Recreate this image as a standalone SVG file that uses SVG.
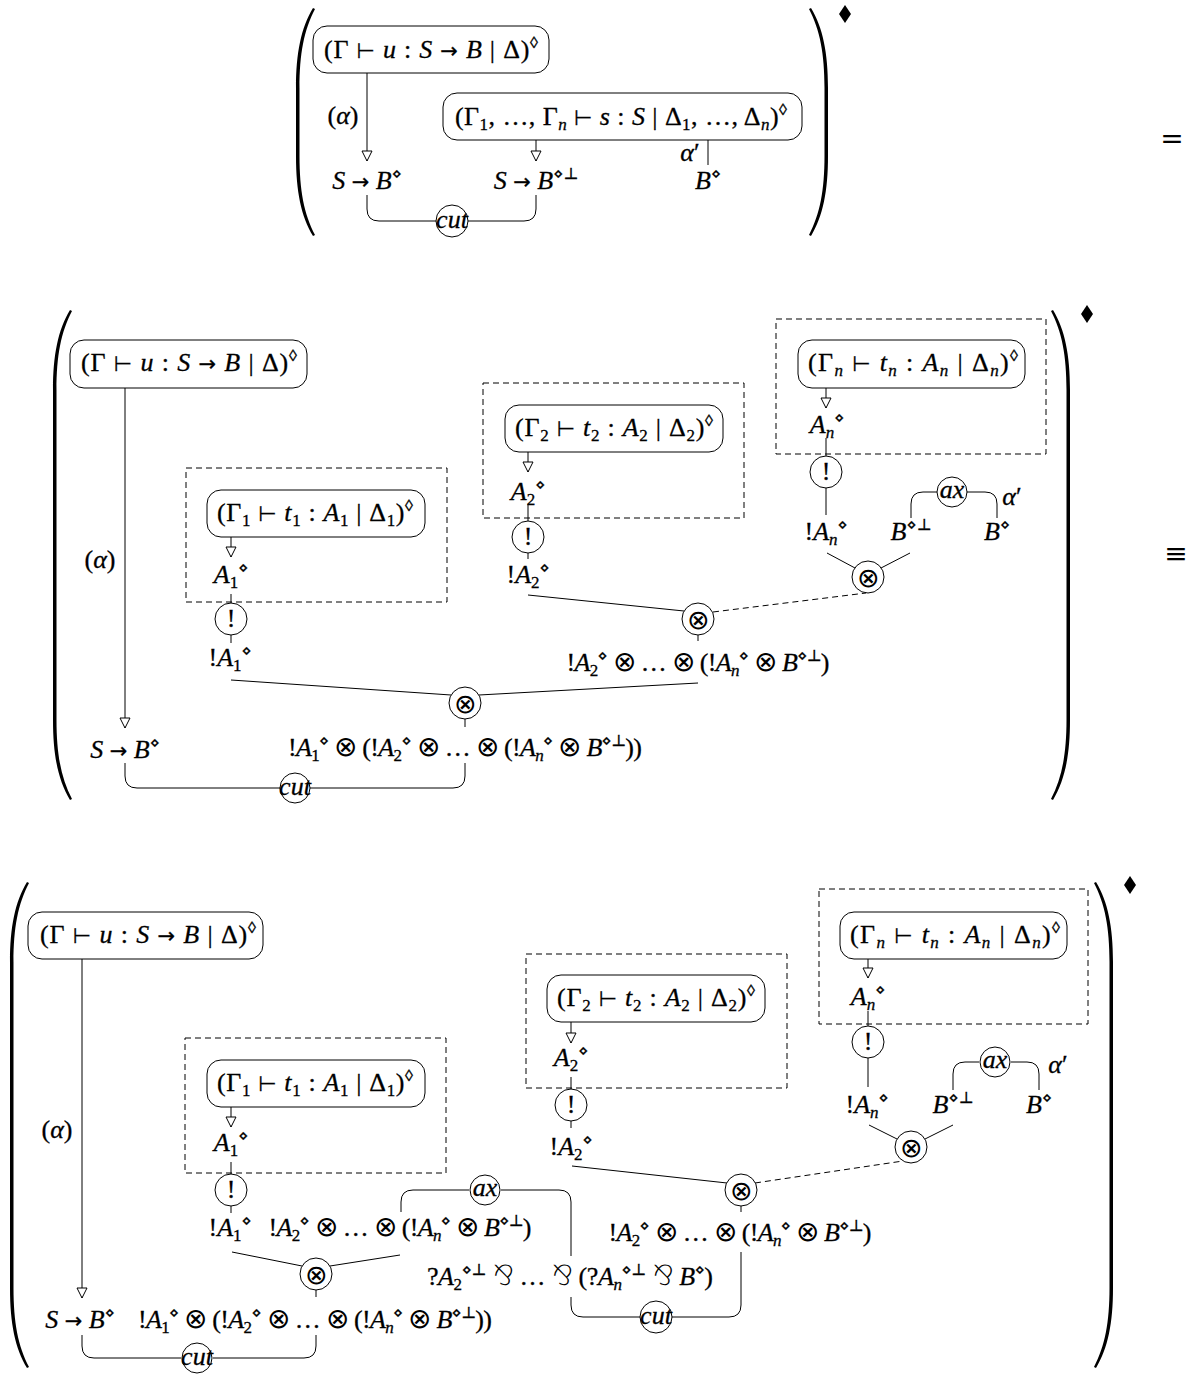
<svg xmlns="http://www.w3.org/2000/svg" width="1200" height="1374" viewBox="0 0 1200 1374">
<style>
.m{font-family:"Liberation Serif","DejaVu Serif","DejaVu Sans",serif;font-size:26px;fill:#000;stroke:#000;stroke-width:0.3px}
.i{font-style:italic}
.sb{font-size:17px;baseline-shift:-5px}
.sp{font-size:16px;baseline-shift:10px}
.o{font-family:"DejaVu Sans",sans-serif;font-size:21px;font-style:normal}
.x{font-family:"DejaVu Sans",sans-serif;font-size:28px;font-style:normal;font-weight:200;stroke-width:0}
.ln{fill:none;stroke:#000;stroke-width:1}
.ds{fill:none;stroke:#000;stroke-width:1;stroke-dasharray:6 4}
.bx{fill:#fff;stroke:#000;stroke-width:1}
.nd{fill:#fff;stroke:#000;stroke-width:1}
.ot{font-family:"DejaVu Sans",sans-serif;font-size:27px;font-weight:200;fill:#000}
.eq{font-family:"DejaVu Serif",serif;font-size:28px;fill:#000}
</style>
<defs>
<marker id="tri" markerUnits="userSpaceOnUse" markerWidth="12" markerHeight="12" viewBox="-1 -1 12 12" refX="10" refY="5" orient="auto" overflow="visible">
<path d="M0,0 L10,5 L0,10 Z" fill="#fff" stroke="#000" stroke-width="1"/>
</marker>
</defs>
<rect width="1200" height="1374" fill="#fff"/>

<g id="delims" fill="#000">
<path d="M313 8 C301 28 296 53 296 88 L296 156 C296 191 301 216 313 236 L315 235 C304 214 299.5 190 299.5 156 L299.5 88 C299.5 54 304 30 315 9 Z"/>
<path d="M811 8 C823 28 828 53 828 88 L828 156 C828 191 823 216 811 236 L809 235 C820 214 824.5 190 824.5 156 L824.5 88 C824.5 54 820 30 809 9 Z"/>
<polygon points="845,5 851,14 845,23 839,14"/>
<path d="M70 310 C58 330 53 355 53 390 L53 720 C53 755 58 780 70 800 L72 799 C61 778 56.5 754 56.5 720 L56.5 390 C56.5 356 61 332 72 311 Z"/>
<path d="M1053 310 C1065 330 1070 355 1070 390 L1070 720 C1070 755 1065 780 1053 800 L1051 799 C1062 778 1066.5 754 1066.5 720 L1066.5 390 C1066.5 356 1062 332 1051 311 Z"/>
<polygon points="1087,305 1093,314 1087,323 1081,314"/>
<path d="M27 882 C15 902 10 927 10 962 L10 1288 C10 1323 15 1348 27 1368 L29 1367 C18 1346 13.5 1322 13.5 1288 L13.5 962 C13.5 928 18 904 29 883 Z"/>
<path d="M1096 882 C1108 902 1113 927 1113 962 L1113 1288 C1113 1323 1108 1348 1096 1368 L1094 1367 C1105 1346 1109.5 1322 1109.5 1288 L1109.5 962 C1109.5 928 1105 904 1094 883 Z"/>
<polygon points="1130,876 1136,885 1130,894 1124,885"/>
</g>
<text class="eq" x="1172" y="148" text-anchor="middle">=</text>
<text class="eq" x="1176" y="563" text-anchor="middle">≡</text>

<g id="connectors">
<path class="ln" d="M367 73 V161" marker-end="url(#tri)"/>
<path class="ln" d="M536 140 V161" marker-end="url(#tri)"/>
<path class="ln" d="M708 140 V165"/>
<path class="ln" d="M367 195 V209 Q367 221 379 221 H436 M468 221 H524 Q536 221 536 209 V195"/>
<path class="ln" d="M125 388 V728" marker-end="url(#tri)"/>
<path class="ln" d="M231 537 V557" marker-end="url(#tri)"/>
<path class="ln" d="M231 594 V603 M231 635 V643"/>
<path class="ln" d="M231 680 L451 695 M698 683 L479 695 M465 719 V727"/>
<path class="ln" d="M125 763 V776 Q125 788 137 788 H280 M310 788 H453 Q465 788 465 776 V763"/>
<path class="ln" d="M528 452 V472" marker-end="url(#tri)"/>
<path class="ln" d="M528 504 V521 M528 553 V559"/>
<path class="ln" d="M528 595 L684 611 M698 635 V641"/>
<path class="ds" d="M713 612 L866 593"/>
<path class="ln" d="M826 388 V408" marker-end="url(#tri)"/>
<path class="ln" d="M826 438 V456 M826 488 V515"/>
<path class="ln" d="M911 518 V504 Q911 492 923 492 H937 M967 492 H985 Q997 492 997 504 V518"/>
<path class="ln" d="M827 553 L855 568 M910 553 L881 568"/>
<rect class="ds" x="186" y="468" width="261" height="134"/>
<rect class="ds" x="483" y="383" width="261" height="135"/>
<rect class="ds" x="776" y="319" width="270" height="135"/>
<path class="ln" d="M82 959 V1298" marker-end="url(#tri)"/>
<path class="ln" d="M231 1107 V1127" marker-end="url(#tri)"/>
<path class="ln" d="M231 1162 V1174 M231 1206 V1213"/>
<path class="ln" d="M232 1252 L302 1266 M400 1255 L330 1266 M316 1290 V1297"/>
<path class="ln" d="M82 1335 V1346 Q82 1358 94 1358 H181 M213 1358 H304 Q316 1358 316 1346 V1335"/>
<path class="ln" d="M401 1212 V1202 Q401 1190 413 1190 H469 M501 1190 H559 Q571 1190 571 1202 V1256"/>
<path class="ln" d="M571 1022 V1043" marker-end="url(#tri)"/>
<path class="ln" d="M571 1077 V1089 M571 1121 V1128"/>
<path class="ln" d="M572 1166 L727 1183 M741 1206 V1212"/>
<path class="ds" d="M755 1183 L903 1161"/>
<path class="ln" d="M571 1297 V1305 Q571 1317 583 1317 H640 M672 1317 H729 Q741 1317 741 1305 V1252"/>
<path class="ln" d="M868 959 V978" marker-end="url(#tri)"/>
<path class="ln" d="M868 1011 V1026 M868 1058 V1087"/>
<path class="ln" d="M953 1090 V1074 Q953 1062 965 1062 H979 M1011 1062 H1027 Q1039 1062 1039 1074 V1090"/>
<path class="ln" d="M869 1125 L897 1139 M953 1125 L925 1139"/>
<rect class="ds" x="185" y="1038" width="261" height="135"/>
<rect class="ds" x="526" y="954" width="261" height="134"/>
<rect class="ds" x="819" y="889" width="269" height="135"/>
</g>

<g id="p1-box-u"><rect class="bx" x="313" y="26" width="236" height="47" rx="14"/>
<text class="m" x="431" y="58" text-anchor="middle" textLength="214" lengthAdjust="spacing">(Γ <tspan class="o">⊢</tspan> <tspan class="i">u</tspan> : <tspan class="i">S</tspan> <tspan class="o">→</tspan> <tspan class="i">B</tspan> | Δ)<tspan class="sp">◊</tspan></text></g>
<g id="p1-box-s"><rect class="bx" x="443" y="93" width="359" height="47" rx="14"/>
<text class="m" x="621" y="125" text-anchor="middle" textLength="332" lengthAdjust="spacing">(Γ<tspan class="sb">1</tspan>, …, Γ<tspan class="sb i">n</tspan> <tspan class="o">⊢</tspan> <tspan class="i">s</tspan> : <tspan class="i">S</tspan> | Δ<tspan class="sb">1</tspan>, …, Δ<tspan class="sb i">n</tspan>)<tspan class="sp">◊</tspan></text></g>
<g id="p1-alpha"><text class="m" x="343" y="124" text-anchor="middle">(<tspan class="i">α</tspan>)</text></g>
<g id="p1-SB"><text class="m" x="367" y="189" text-anchor="middle"><tspan class="i">S</tspan> <tspan class="o">→</tspan> <tspan class="i">B</tspan><tspan class="sp">⋄</tspan></text></g>
<g id="p1-SBp"><text class="m" x="536" y="189" text-anchor="middle"><tspan class="i">S</tspan> <tspan class="o">→</tspan> <tspan class="i">B</tspan><tspan class="sp">⋄⊥</tspan></text></g>
<g id="p1-alphap"><text class="m" x="690" y="161" text-anchor="middle"><tspan class="i">α</tspan>′</text></g>
<g id="p1-B"><text class="m" x="708" y="189" text-anchor="middle"><tspan class="i">B</tspan><tspan class="sp">⋄</tspan></text></g>
<g id="p1-cut"><circle class="nd" cx="452" cy="221" r="16"/><text class="m i" x="452" y="228" text-anchor="middle">cut</text></g>

<g id="p2-box-u"><rect class="bx" x="70" y="340" width="237" height="48" rx="14"/>
<text class="m" x="189" y="371" text-anchor="middle" textLength="216" lengthAdjust="spacing">(Γ <tspan class="o">⊢</tspan> <tspan class="i">u</tspan> : <tspan class="i">S</tspan> <tspan class="o">→</tspan> <tspan class="i">B</tspan> | Δ)<tspan class="sp">◊</tspan></text></g>
<g id="p2-box-t1"><rect class="bx" x="207" y="490" width="218" height="47" rx="14"/>
<text class="m" x="315" y="521" text-anchor="middle" textLength="196" lengthAdjust="spacing">(Γ<tspan class="sb">1</tspan> <tspan class="o">⊢</tspan> <tspan class="i">t</tspan><tspan class="sb">1</tspan> : <tspan class="i">A</tspan><tspan class="sb">1</tspan> | Δ<tspan class="sb">1</tspan>)<tspan class="sp">◊</tspan></text></g>
<g id="p2-box-t2"><rect class="bx" x="505" y="405" width="218" height="47" rx="14"/>
<text class="m" x="614" y="436" text-anchor="middle" textLength="198" lengthAdjust="spacing">(Γ<tspan class="sb">2</tspan> <tspan class="o">⊢</tspan> <tspan class="i">t</tspan><tspan class="sb">2</tspan> : <tspan class="i">A</tspan><tspan class="sb">2</tspan> | Δ<tspan class="sb">2</tspan>)<tspan class="sp">◊</tspan></text></g>
<g id="p2-box-tn"><rect class="bx" x="798" y="340" width="227" height="48" rx="14"/>
<text class="m" x="913" y="371" text-anchor="middle" textLength="210" lengthAdjust="spacing">(Γ<tspan class="sb i">n</tspan> <tspan class="o">⊢</tspan> <tspan class="i">t</tspan><tspan class="sb i">n</tspan> : <tspan class="i">A</tspan><tspan class="sb i">n</tspan> | Δ<tspan class="sb i">n</tspan>)<tspan class="sp">◊</tspan></text></g>
<g id="p2-alpha"><text class="m" x="100" y="568" text-anchor="middle">(<tspan class="i">α</tspan>)</text></g>
<g id="p2-A1"><text class="m" x="231" y="583" text-anchor="middle"><tspan class="i">A</tspan><tspan class="sb">1</tspan><tspan class="sp">⋄</tspan></text></g>
<g id="p2-bang1"><circle class="nd" cx="231" cy="619" r="16"/><text class="m" x="231" y="627" text-anchor="middle">!</text></g>
<g id="p2-bA1"><text class="m" x="230" y="666" text-anchor="middle">!<tspan class="i">A</tspan><tspan class="sb">1</tspan><tspan class="sp">⋄</tspan></text></g>
<g id="p2-SB"><text class="m" x="125" y="758" text-anchor="middle"><tspan class="i">S</tspan> <tspan class="o">→</tspan> <tspan class="i">B</tspan><tspan class="sp">⋄</tspan></text></g>
<g id="p2-big"><text class="m" x="465" y="756" text-anchor="middle" textLength="354" lengthAdjust="spacing">!<tspan class="i">A</tspan><tspan class="sb">1</tspan><tspan class="sp">⋄</tspan> <tspan class="x">⊗</tspan> (!<tspan class="i">A</tspan><tspan class="sb">2</tspan><tspan class="sp">⋄</tspan> <tspan class="x">⊗</tspan> … <tspan class="x">⊗</tspan> (!<tspan class="i">A</tspan><tspan class="sb i">n</tspan><tspan class="sp">⋄</tspan> <tspan class="x">⊗</tspan> <tspan class="i">B</tspan><tspan class="sp">⋄⊥</tspan>))</text></g>
<g id="p2-A2"><text class="m" x="528" y="500" text-anchor="middle"><tspan class="i">A</tspan><tspan class="sb">2</tspan><tspan class="sp">⋄</tspan></text></g>
<g id="p2-bang2"><circle class="nd" cx="528" cy="537" r="16"/><text class="m" x="528" y="545" text-anchor="middle">!</text></g>
<g id="p2-bA2"><text class="m" x="528" y="583" text-anchor="middle">!<tspan class="i">A</tspan><tspan class="sb">2</tspan><tspan class="sp">⋄</tspan></text></g>
<g id="p2-mid"><text class="m" x="698" y="671" text-anchor="middle" textLength="263" lengthAdjust="spacing">!<tspan class="i">A</tspan><tspan class="sb">2</tspan><tspan class="sp">⋄</tspan> <tspan class="x">⊗</tspan> … <tspan class="x">⊗</tspan> (!<tspan class="i">A</tspan><tspan class="sb i">n</tspan><tspan class="sp">⋄</tspan> <tspan class="x">⊗</tspan> <tspan class="i">B</tspan><tspan class="sp">⋄⊥</tspan>)</text></g>
<g id="p2-An"><text class="m" x="827" y="433" text-anchor="middle"><tspan class="i">A</tspan><tspan class="sb i">n</tspan><tspan class="sp">⋄</tspan></text></g>
<g id="p2-bangn"><circle class="nd" cx="826" cy="472" r="16"/><text class="m" x="826" y="480" text-anchor="middle">!</text></g>
<g id="p2-bAn"><text class="m" x="826" y="540" text-anchor="middle">!<tspan class="i">A</tspan><tspan class="sb i">n</tspan><tspan class="sp">⋄</tspan></text></g>
<g id="p2-Bp"><text class="m" x="911" y="540" text-anchor="middle"><tspan class="i">B</tspan><tspan class="sp">⋄⊥</tspan></text></g>
<g id="p2-B"><text class="m" x="997" y="540" text-anchor="middle"><tspan class="i">B</tspan><tspan class="sp">⋄</tspan></text></g>
<g id="p2-alphap"><text class="m" x="1012" y="505" text-anchor="middle"><tspan class="i">α</tspan>′</text></g>
<g id="p2-ax"><circle class="nd" cx="952" cy="492" r="15"/><text class="m i" x="952" y="498" text-anchor="middle">ax</text></g>
<g id="p2-tensn"><circle class="nd" cx="868" cy="577" r="16"/><text class="ot" x="868" y="587" text-anchor="middle">⊗</text></g>
<g id="p2-tens2"><circle class="nd" cx="698" cy="619" r="16"/><text class="ot" x="698" y="629" text-anchor="middle">⊗</text></g>
<g id="p2-tens1"><circle class="nd" cx="465" cy="703" r="16"/><text class="ot" x="465" y="713" text-anchor="middle">⊗</text></g>
<g id="p2-cut"><circle class="nd" cx="295" cy="788" r="15"/><text class="m i" x="295" y="795" text-anchor="middle">cut</text></g>

<g id="p3-box-u"><rect class="bx" x="28" y="912" width="235" height="47" rx="14"/>
<text class="m" x="148" y="943" text-anchor="middle" textLength="216" lengthAdjust="spacing">(Γ <tspan class="o">⊢</tspan> <tspan class="i">u</tspan> : <tspan class="i">S</tspan> <tspan class="o">→</tspan> <tspan class="i">B</tspan> | Δ)<tspan class="sp">◊</tspan></text></g>
<g id="p3-box-t1"><rect class="bx" x="207" y="1060" width="218" height="47" rx="14"/>
<text class="m" x="315" y="1091" text-anchor="middle" textLength="196" lengthAdjust="spacing">(Γ<tspan class="sb">1</tspan> <tspan class="o">⊢</tspan> <tspan class="i">t</tspan><tspan class="sb">1</tspan> : <tspan class="i">A</tspan><tspan class="sb">1</tspan> | Δ<tspan class="sb">1</tspan>)<tspan class="sp">◊</tspan></text></g>
<g id="p3-box-t2"><rect class="bx" x="547" y="975" width="218" height="47" rx="14"/>
<text class="m" x="656" y="1006" text-anchor="middle" textLength="198" lengthAdjust="spacing">(Γ<tspan class="sb">2</tspan> <tspan class="o">⊢</tspan> <tspan class="i">t</tspan><tspan class="sb">2</tspan> : <tspan class="i">A</tspan><tspan class="sb">2</tspan> | Δ<tspan class="sb">2</tspan>)<tspan class="sp">◊</tspan></text></g>
<g id="p3-box-tn"><rect class="bx" x="840" y="912" width="227" height="47" rx="14"/>
<text class="m" x="955" y="943" text-anchor="middle" textLength="210" lengthAdjust="spacing">(Γ<tspan class="sb i">n</tspan> <tspan class="o">⊢</tspan> <tspan class="i">t</tspan><tspan class="sb i">n</tspan> : <tspan class="i">A</tspan><tspan class="sb i">n</tspan> | Δ<tspan class="sb i">n</tspan>)<tspan class="sp">◊</tspan></text></g>
<g id="p3-alpha"><text class="m" x="57" y="1138" text-anchor="middle">(<tspan class="i">α</tspan>)</text></g>
<g id="p3-A1"><text class="m" x="231" y="1151" text-anchor="middle"><tspan class="i">A</tspan><tspan class="sb">1</tspan><tspan class="sp">⋄</tspan></text></g>
<g id="p3-bang1"><circle class="nd" cx="231" cy="1190" r="16"/><text class="m" x="231" y="1198" text-anchor="middle">!</text></g>
<g id="p3-bA1"><text class="m" x="230" y="1236" text-anchor="middle">!<tspan class="i">A</tspan><tspan class="sb">1</tspan><tspan class="sp">⋄</tspan></text></g>
<g id="p3-mid-a"><text class="m" x="400" y="1236" text-anchor="middle" textLength="263" lengthAdjust="spacing">!<tspan class="i">A</tspan><tspan class="sb">2</tspan><tspan class="sp">⋄</tspan> <tspan class="x">⊗</tspan> … <tspan class="x">⊗</tspan> (!<tspan class="i">A</tspan><tspan class="sb i">n</tspan><tspan class="sp">⋄</tspan> <tspan class="x">⊗</tspan> <tspan class="i">B</tspan><tspan class="sp">⋄⊥</tspan>)</text></g>
<g id="p3-par"><text class="m" x="570" y="1285" text-anchor="middle" textLength="286" lengthAdjust="spacing">?<tspan class="i">A</tspan><tspan class="sb">2</tspan><tspan class="sp">⋄⊥</tspan> <tspan class="x">⅋</tspan> … <tspan class="x">⅋</tspan> (?<tspan class="i">A</tspan><tspan class="sb i">n</tspan><tspan class="sp">⋄⊥</tspan> <tspan class="x">⅋</tspan> <tspan class="i">B</tspan><tspan class="sp">⋄</tspan>)</text></g>
<g id="p3-mid-b"><text class="m" x="740" y="1241" text-anchor="middle" textLength="263" lengthAdjust="spacing">!<tspan class="i">A</tspan><tspan class="sb">2</tspan><tspan class="sp">⋄</tspan> <tspan class="x">⊗</tspan> … <tspan class="x">⊗</tspan> (!<tspan class="i">A</tspan><tspan class="sb i">n</tspan><tspan class="sp">⋄</tspan> <tspan class="x">⊗</tspan> <tspan class="i">B</tspan><tspan class="sp">⋄⊥</tspan>)</text></g>
<g id="p3-SB"><text class="m" x="80" y="1328" text-anchor="middle"><tspan class="i">S</tspan> <tspan class="o">→</tspan> <tspan class="i">B</tspan><tspan class="sp">⋄</tspan></text></g>
<g id="p3-big"><text class="m" x="315" y="1328" text-anchor="middle" textLength="354" lengthAdjust="spacing">!<tspan class="i">A</tspan><tspan class="sb">1</tspan><tspan class="sp">⋄</tspan> <tspan class="x">⊗</tspan> (!<tspan class="i">A</tspan><tspan class="sb">2</tspan><tspan class="sp">⋄</tspan> <tspan class="x">⊗</tspan> … <tspan class="x">⊗</tspan> (!<tspan class="i">A</tspan><tspan class="sb i">n</tspan><tspan class="sp">⋄</tspan> <tspan class="x">⊗</tspan> <tspan class="i">B</tspan><tspan class="sp">⋄⊥</tspan>))</text></g>
<g id="p3-A2"><text class="m" x="571" y="1066" text-anchor="middle"><tspan class="i">A</tspan><tspan class="sb">2</tspan><tspan class="sp">⋄</tspan></text></g>
<g id="p3-bang2"><circle class="nd" cx="571" cy="1105" r="16"/><text class="m" x="571" y="1113" text-anchor="middle">!</text></g>
<g id="p3-bA2"><text class="m" x="571" y="1155" text-anchor="middle">!<tspan class="i">A</tspan><tspan class="sb">2</tspan><tspan class="sp">⋄</tspan></text></g>
<g id="p3-An"><text class="m" x="868" y="1005" text-anchor="middle"><tspan class="i">A</tspan><tspan class="sb i">n</tspan><tspan class="sp">⋄</tspan></text></g>
<g id="p3-bangn"><circle class="nd" cx="868" cy="1042" r="16"/><text class="m" x="868" y="1050" text-anchor="middle">!</text></g>
<g id="p3-bAn"><text class="m" x="867" y="1113" text-anchor="middle">!<tspan class="i">A</tspan><tspan class="sb i">n</tspan><tspan class="sp">⋄</tspan></text></g>
<g id="p3-Bp"><text class="m" x="953" y="1113" text-anchor="middle"><tspan class="i">B</tspan><tspan class="sp">⋄⊥</tspan></text></g>
<g id="p3-B"><text class="m" x="1039" y="1113" text-anchor="middle"><tspan class="i">B</tspan><tspan class="sp">⋄</tspan></text></g>
<g id="p3-alphap"><text class="m" x="1058" y="1073" text-anchor="middle"><tspan class="i">α</tspan>′</text></g>
<g id="p3-ax2"><circle class="nd" cx="995" cy="1062" r="15"/><text class="m i" x="995" y="1068" text-anchor="middle">ax</text></g>
<g id="p3-ax1"><circle class="nd" cx="485" cy="1190" r="15"/><text class="m i" x="485" y="1196" text-anchor="middle">ax</text></g>
<g id="p3-tensn"><circle class="nd" cx="911" cy="1147" r="16"/><text class="ot" x="911" y="1157" text-anchor="middle">⊗</text></g>
<g id="p3-tens2"><circle class="nd" cx="741" cy="1190" r="16"/><text class="ot" x="741" y="1200" text-anchor="middle">⊗</text></g>
<g id="p3-tens1"><circle class="nd" cx="316" cy="1274" r="16"/><text class="ot" x="316" y="1284" text-anchor="middle">⊗</text></g>
<g id="p3-cut2"><circle class="nd" cx="656" cy="1317" r="16"/><text class="m i" x="656" y="1324" text-anchor="middle">cut</text></g>
<g id="p3-cut1"><circle class="nd" cx="197" cy="1358" r="15"/><text class="m i" x="197" y="1365" text-anchor="middle">cut</text></g>
</svg>
